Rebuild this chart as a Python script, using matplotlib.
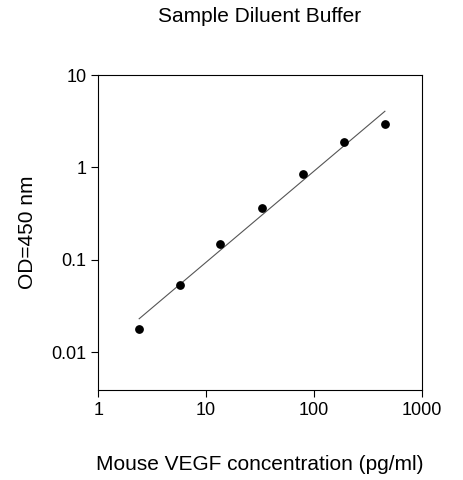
import matplotlib
matplotlib.use("Agg")
import matplotlib.pyplot as plt
import numpy as np

plt.rcParams['font.family'] = ['Liberation Sans', 'DejaVu Sans']

conc = [2.4, 5.7, 13.5, 33, 79, 190, 455]
od = [0.018, 0.053, 0.15, 0.36, 0.84, 1.9, 2.95]

fig = plt.figure(figsize=(4.63, 4.8), dpi=100)
ax = fig.add_axes([0.212, 0.1875, 0.699, 0.656])
lx, ly = np.log10(conc), np.log10(od)
s, b = np.polyfit(lx, ly, 1)
xs = np.array([lx[0], lx[-1]])
ax.plot(10**xs, 10**(s*xs+b), color='#555555', lw=0.8)
ax.scatter(conc, od, s=28, color='black', zorder=3)
ax.set_xscale('log'); ax.set_yscale('log')
ax.set_xlim(1, 1000); ax.set_ylim(0.0039, 10)
ax.set_xticks([1, 10, 100, 1000]); ax.set_xticklabels(['1', '10', '100', '1000'])
ax.set_yticks([0.01, 0.1, 1, 10]); ax.set_yticklabels(['0.01', '0.1', '1', '10'])
ax.minorticks_off()
ax.tick_params(labelsize=13, direction='out', length=5)
ax.set_title('Sample Diluent Buffer', fontsize=15, pad=38)
ax.set_xlabel('Mouse VEGF concentration (pg/ml)', fontsize=15, labelpad=26)
ax.set_ylabel('OD=450 nm', fontsize=15, labelpad=10)
fig.savefig('out.png', dpi=100)
